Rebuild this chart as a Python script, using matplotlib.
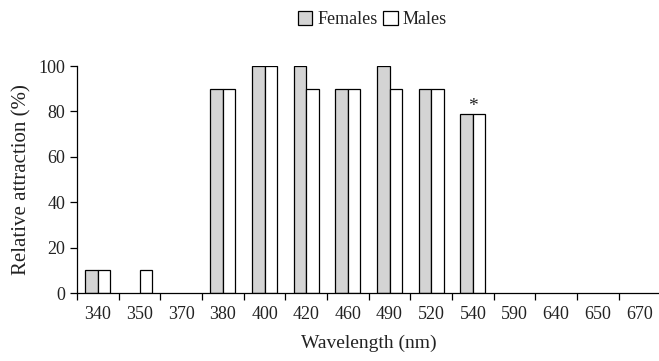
import numpy as np
import matplotlib
matplotlib.use("Agg")
import matplotlib.pyplot as plt
from matplotlib.patches import Patch

# ─── 数据 ──────────────────────────────────────────────────────────────────
wavelengths = ["340", "350", "370", "380", "400", "420", "460",
               "490", "520", "540", "590", "640", "650", "670"]
females = [10, 0, 0, 90, 100, 100, 90, 100, 90, 79, 0, 0, 0, 0]
males   = [10, 10, 0, 90, 100, 90, 90, 90, 90, 79, 0, 0, 0, 0]
star_at = "540"

plt.rcParams["font.family"] = ["Liberation Serif", "DejaVu Serif"]
TXT = "#222222"

fig = plt.figure(figsize=(6.59, 3.61), dpi=100)
ax = fig.add_axes([0.117, 0.188, 0.885, 0.629])

x = np.arange(len(wavelengths))
w = 0.3
# 高度为 0 的柱不画边框（避免压粗坐标轴）
ax.bar(x - w / 2, females, width=w, color="#d4d4d4", edgecolor="black",
       lw=[0.9 if v else 0 for v in females])
ax.bar(x + w / 2, males, width=w, color="white", edgecolor="black",
       lw=[0.9 if v else 0 for v in males])

i = wavelengths.index(star_at)
ax.text(x[i], max(females[i], males[i]) - 0.5, "*", ha="center", va="bottom",
        fontsize=14, color=TXT)

ax.set_xlim(-0.5, len(wavelengths) - 0.5)
ax.set_ylim(0, 100)
ax.set_yticks([0, 20, 40, 60, 80, 100])
ax.set_xticks(x)
ax.set_xticklabels(wavelengths)
ax.set_xticks(np.arange(-0.5, len(wavelengths)), minor=True)
ax.tick_params(axis="x", which="major", length=0, pad=9, labelsize=13, labelcolor=TXT)
ax.tick_params(axis="x", which="minor", length=5, width=0.9)
ax.tick_params(axis="y", length=5, width=0.9, labelsize=13, labelcolor=TXT)
ax.spines["top"].set_visible(False)
ax.spines["right"].set_visible(False)
ax.spines["left"].set_linewidth(0.9)
ax.spines["bottom"].set_linewidth(0.9)

ax.set_ylabel("Relative attraction (%)", fontsize=15, labelpad=5, color=TXT)
ax.set_xlabel("Wavelength (nm)", fontsize=14, labelpad=9, color=TXT)

handles = [Patch(facecolor="#d4d4d4", edgecolor="black", lw=0.9, label="Females"),
           Patch(facecolor="white", edgecolor="black", lw=0.9, label="Males")]
fig.legend(handles=handles, loc="center", bbox_to_anchor=(0.565, 0.945), ncol=2,
           frameon=False, fontsize=13, handlelength=0.8, handleheight=0.8,
           handletextpad=0.3, columnspacing=0.3, labelcolor=TXT)

fig.savefig("out.png", dpi=100)
